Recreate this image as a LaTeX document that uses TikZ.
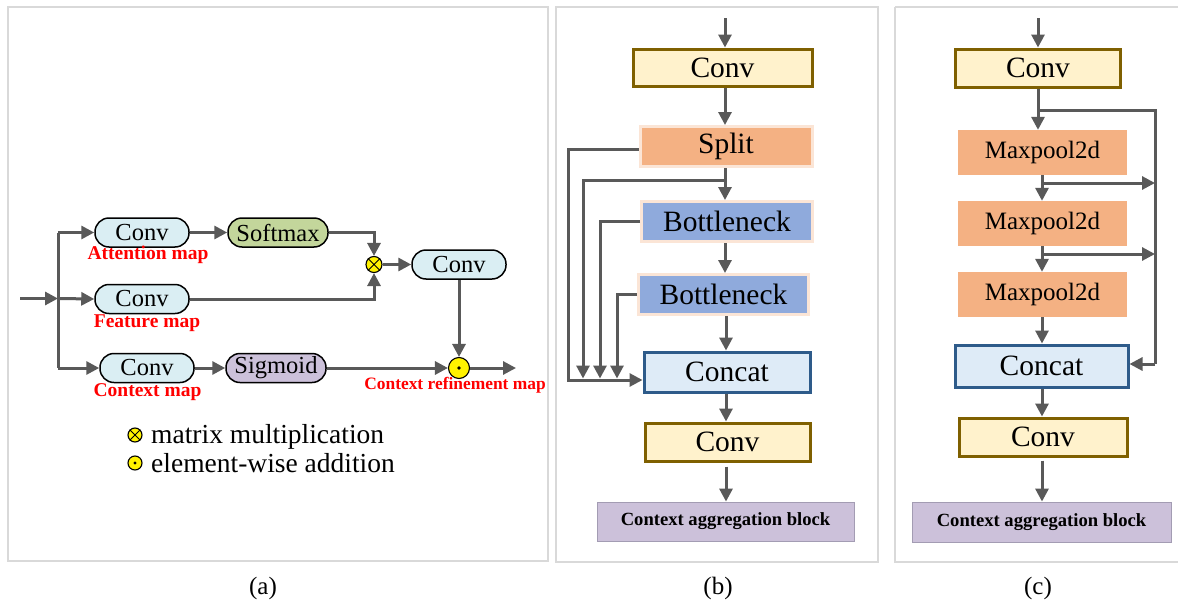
\documentclass[tikz,border=0pt]{standalone}
\usepackage{fontspec}
\setmainfont{Liberation Serif}
\usetikzlibrary{arrows.meta,calc}
\definecolor{arr}{HTML}{595959}
\definecolor{pgray}{HTML}{D9D9D9}
\definecolor{cblue}{HTML}{DAEEF3}
\definecolor{softg}{HTML}{C3D69B}
\definecolor{sigp}{HTML}{CCC1DA}
\definecolor{convfill}{HTML}{FFF2CC}
\definecolor{convdraw}{HTML}{7F6000}
\definecolor{orangef}{HTML}{F4B183}
\definecolor{paleb}{HTML}{FBE5D6}
\definecolor{bnfill}{HTML}{8FAADC}
\definecolor{catfill}{HTML}{DEEBF7}
\definecolor{catdraw}{HTML}{2E5B8A}
\definecolor{cabfill}{HTML}{CCC1DA}
\definecolor{cabdraw}{HTML}{A39CB3}
\tikzset{
  fs/.style={font=\fontsize{#1}{#1}\selectfont},
  pborder/.style={draw=pgray, line width=2.4pt},
  line/.style={draw=arr, line width=3pt},
  arrow/.style={line, -{Triangle[length=13pt,width=13pt]}},
  rbox/.style={draw=black, line width=1.5pt, rounded corners=14pt, minimum width=94pt,
    minimum height=29pt, inner sep=0pt, fs=24.5},
  lab/.style={text=red, font=\fontsize{19.5}{19.5}\selectfont\bfseries, inner sep=0pt},
  sqbox/.style={inner sep=0pt, fs=29.5},
  convbox/.style={sqbox, fill=convfill, draw=convdraw, line width=3pt},
  splitbox/.style={sqbox, fill=orangef, draw=paleb, line width=3pt},
  bnbox/.style={sqbox, fill=bnfill, draw=paleb, line width=3pt},
  catbox/.style={sqbox, fill=catfill, draw=catdraw, line width=3pt},
  mpbox/.style={sqbox, fill=orangef, fs=25, minimum width=169pt, minimum height=45pt},
  cabbox/.style={inner sep=0pt, fill=cabfill, draw=cabdraw, line width=0.9pt,
    font=\fontsize{18.6}{18.6}\selectfont\bfseries},
  mulc/.style={circle, draw=black, fill=yellow, line width=1.1pt, inner sep=0pt},
  captxt/.style={fs=25, inner sep=0pt},
}
\begin{document}
\begin{tikzpicture}[x=1pt,y=-1pt]
\useasboundingbox (0,0) rectangle (1178,605);
\fill[white] (0,0) rectangle (1178,605);
% panel borders
\draw[pborder] (8,7) rectangle (548,561);
\draw[pborder] (556,7) rectangle (878,562);
\draw[pborder] (895,7) -- (1180,7);
\draw[pborder] (895,7) -- (895,562) -- (1180,562);

% ---------------- panel (a)
\node[rbox, fill=cblue] (a1) at (142,232.5) {Conv};
\node[rbox, fill=cblue] (a2) at (142,299) {Conv};
\node[rbox, fill=cblue] (a3) at (147,368) {Conv};
\node[rbox, fill=softg, minimum width=100pt] (sm) at (278,232.5) {Softmax};
\node[rbox, fill=sigp, minimum width=100pt] (sg) at (276,368) {Sigmoid};
\node[rbox, fill=cblue] (a4) at (459,264.5) {Conv};
\node[mulc, minimum size=16pt] (mul) at (374,264.5) {};
\draw[line width=0.9pt] (mul.north west) -- (mul.south east) (mul.north east) -- (mul.south west);
\node[mulc, minimum size=21pt] (add) at (459,368) {};
\fill (add.center) circle (1.9pt);

\coordinate (ain) at (20,298.5);
\coordinate (abr) at (58,298.5);
\coordinate (abt) at (58,232.5);
\coordinate (abb) at (58,368);
\coordinate (aout) at (516,368);
\draw[line] (abt) -- (abb);
\draw[arrow] (ain) -- (abr);
\draw[arrow] (abt) -- (a1.west);
\draw[arrow] (abr) -- (a2.west);
\draw[arrow] (abb) -- (a3.west);
\draw[arrow] (a1.east) -- (sm.west);
\draw[arrow] (a3.east) -- (sg.west);
\draw[arrow] (sm.east) -| (mul.north);
\draw[arrow] (a2.east) -| (mul.south);
\draw[arrow] (mul.east) -- (a4.west);
\draw[arrow] (a4.south) -- (add.north);
\draw[arrow] (sg.east) -- (add.west);
\draw[arrow] (add.east) -- (aout);

\node[lab] (l1) at (148,255) {Attention map};
\node[lab] (l2) at (147,323) {Feature map};
\node[lab] (l3) at (147.5,392) {Context map};
\node[lab, font=\fontsize{17.4}{17.4}\selectfont\bfseries] (l4) at (455,385) {Context refinement map};

% legend
\node[mulc, minimum size=14pt] (lg1) at (135,435) {};
\draw[line width=0.8pt] (lg1.north west) -- (lg1.south east) (lg1.north east) -- (lg1.south west);
\node[mulc, minimum size=14pt] (lg2) at (135,463) {};
\fill (lg2.center) circle (1.7pt);
\node[fs=27.5, inner sep=0pt, anchor=base west] (lt1) at (151,443) {matrix multiplication};
\node[fs=27.5, inner sep=0pt, anchor=base west] (lt2) at (151,472) {element-wise addition};

% ---------------- panel (b)
\node[convbox, minimum width=179pt, minimum height=37pt] (b1) at (722.5,67.5) {Conv};
\node[splitbox, minimum width=172pt, minimum height=40pt] (bs) at (726,146.5) {Split};
\node[bnbox, minimum width=171pt, minimum height=40pt] (bn1) at (727,221.5) {Bottleneck};
\node[bnbox, minimum width=170pt, minimum height=40pt] (bn2) at (723.5,294.5) {Bottleneck};
\node[catbox, minimum width=166pt, minimum height=40pt] (bc) at (727,372) {Concat};
\node[convbox, minimum width=165pt, minimum height=38pt] (b2) at (727.5,442) {Conv};
\node[cabbox, minimum width=257pt, minimum height=39pt] (bcab) at (725.5,521.5) {Context aggregation block};

\coordinate (bin) at (725,18);
\coordinate (bs1) at (725,180);
\coordinate (bL) at (568,380);
\draw[arrow] (bin) -- (bin |- b1.north);
\draw[arrow] (bin |- b1.south) -- (bin |- bs.north);
\draw[arrow] (bin |- bs.south) -- (bin |- bn1.north);
\draw[arrow] (bin |- bn1.south) -- (bin |- bn2.north);
\draw[arrow] ([xshift=1pt]bin |- bn2.south) -- ([xshift=1pt]bin |- bc.north);
\draw[arrow] ([xshift=1pt]bin |- bc.south) -- ([xshift=1pt]bin |- b2.north);
\draw[arrow] ([xshift=1pt,yshift=-4pt]bin |- b2.south) -- ([xshift=1pt]bin |- bcab.north);
\draw[arrow] ([yshift=-3pt]bs.west) -| (bL) -- (bL -| bc.west);
\draw[arrow] (bs1) -| (583,378.5);
\draw[arrow] (bn1.west) -| (600,378.5);
\draw[arrow] (bn2.west) -| (617,378.5);

% ---------------- panel (c)
\node[convbox, minimum width=165pt, minimum height=38pt] (c1) at (1038,68) {Conv};
\node[mpbox] (m1) at (1042.5,152.5) {Maxpool2d};
\node[mpbox] (m2) at (1042.5,223.5) {Maxpool2d};
\node[mpbox] (m3) at (1042.5,294.5) {Maxpool2d};
\node[catbox, minimum width=173pt, minimum height=42pt] (cc) at (1041.5,366) {Concat};
\node[convbox, minimum width=168pt, minimum height=38pt] (c2) at (1043,437) {Conv};
\node[cabbox, minimum width=259pt, minimum height=40pt] (ccab) at (1041.5,522) {Context aggregation block};

\coordinate (cin) at (1038,18);
\coordinate (cb0) at (1038,110);
\coordinate (cR) at (1155,364);
\coordinate (cx) at (1042,0);
\coordinate (cb1) at (1042,183);
\coordinate (cb2) at (1042,254);
\draw[arrow] (cin) -- (cin |- c1.north);
\draw[arrow] (cin |- c1.south) -- (cin |- m1.north);
\draw[line] (cb0) -| (cR);
\draw[arrow] (cR) -- (cR -| cc.east);
\draw[arrow] (cx |- m1.south) -- (cx |- m2.north);
\draw[arrow] (cx |- m2.south) -- (cx |- m3.north);
\draw[arrow] (cx |- m3.south) -- (cx |- cc.north);
\draw[arrow] (cx |- cc.south) -- (cx |- c2.north);
\draw[arrow] ([yshift=-3pt]cx |- c2.south) -- (cx |- ccab.north);
\draw[arrow] (cb1) -- (cb1 -| cR);
\draw[arrow] (cb2) -- (cb2 -| cR);

% captions
\node[captxt] (capa) at (263,588) {(a)};
\node[captxt] (capb) at (718,588) {(b)};
\node[captxt] (capc) at (1038,588) {(c)};
\end{tikzpicture}
\end{document}
